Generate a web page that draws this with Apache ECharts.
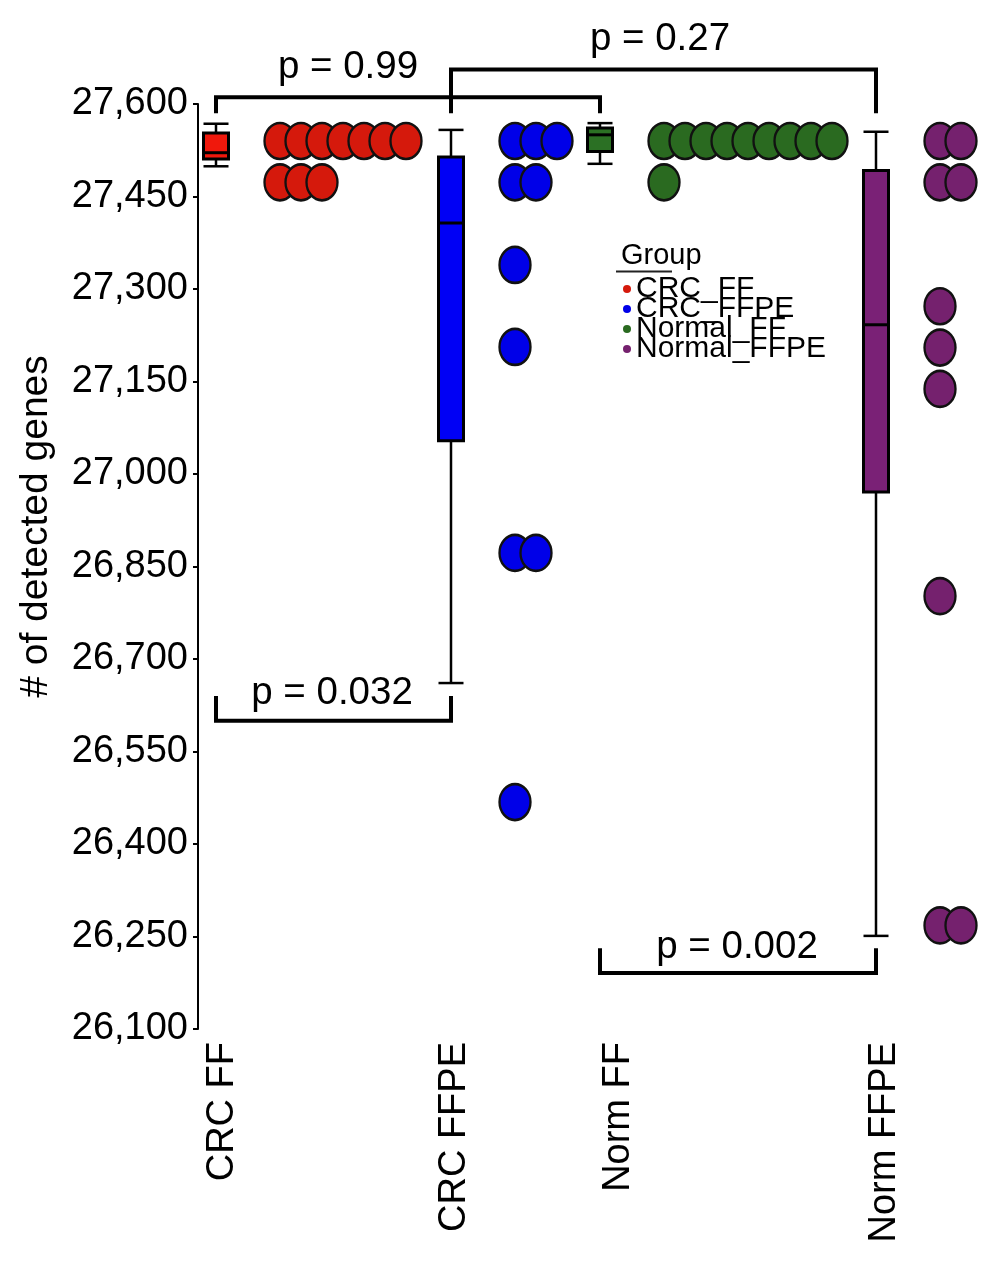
<!DOCTYPE html>
<html><head><meta charset="utf-8">
<script src="https://cdn.jsdelivr.net/npm/echarts@6/dist/echarts.min.js"></script>
<style>html,body{margin:0;padding:0;background:#fff}#chart{width:1006px;height:1265px}</style>
</head><body><div id="chart"></div>
<script>
// ---------- data ----------
const categories = ['CRC FF', 'CRC FFPE', 'Norm FF', 'Norm FFPE'];
const groupNames = ['CRC_FF', 'CRC_FFPE', 'Normal_FF', 'Normal_FFPE'];

const boxMin    = [27499, 26661, 27503, 26251];
const boxQ1     = [27511, 27054, 27523, 26971];
const boxMedian = [27521, 27407, 27550, 27242];
const boxQ3     = [27553, 27514, 27561, 27492];
const boxMax    = [27568, 27558, 27569, 27555];

// dot-plot bins (value) and number of stacked dots in each bin
const crcFFBins      = [27540, 27473];
const crcFFCounts    = [7, 3];
const crcFFPEBins    = [27540, 27473, 27339, 27206, 26872, 26468];
const crcFFPECounts  = [3, 2, 1, 1, 2, 1];
const normFFBins     = [27540, 27473];
const normFFCounts   = [9, 1];
const normFFPEBins   = [27540, 27473, 27272, 27205, 27138, 26802, 26268];
const normFFPECounts = [2, 2, 1, 1, 1, 1, 2];

// significance brackets
const pLabels = ['p = 0.99', 'p = 0.27', 'p = 0.032', 'p = 0.002'];
const pFrom   = [0, 1, 0, 2];
const pTo     = [2, 3, 1, 3];
const pBarY   = [27611, 27656, 26600, 26191];
const pLegY   = [27585, 27585, 26640, 26231];
const pTextY  = [27660, 27705, 26644, 26233];

// y axis ticks
const yMin = 26100, yMax = 27600, yStep = 150;

// ---------- layout / style ----------
const groupPos  = [18, 253, 402, 678];   // x positions of the boxes (axis units)
const labelPos  = [25, 256.5, 421, 687]; // x positions of the category labels
const pTextX    = [150, 462, 134, 539];
const dotOffset = 64, dotStep = 21;
const boxColors = ['#f0180c', '#0000f5', '#2b7024', '#7a2176'];
const dotColors = ['#d5190c', '#0000e8', '#2a6a20', '#75216e'];
const FONT = 'Liberation Sans, Arial, sans-serif';

const binsAll = [[crcFFBins, crcFFCounts], [crcFFPEBins, crcFFPECounts], [normFFBins, normFFCounts], [normFFPEBins, normFFPECounts]];

function dotData(g) {
  const [bins, counts] = binsAll[g];
  const out = [];
  bins.forEach((v, b) => {
    for (let k = 0; k < counts[b]; k++) out.push([groupPos[g] + dotOffset + k * dotStep, v]);
  });
  return out;
}

const ellipse = 'path://M0,50 A50,50 0 1,1 100,50 A50,50 0 1,1 0,50 Z';

const scatterSeries = groupNames.map((name, g) => ({
  name: name,
  type: 'scatter',
  data: dotData(g),
  symbol: ellipse,
  symbolSize: [31, 36],
  itemStyle: { color: dotColors[g], borderColor: '#111', borderWidth: 2.5, opacity: 1 },
  z: 3
}));

const boxSeries = {
  type: 'custom',
  name: 'box',
  clip: false,
  silent: true,
  data: categories.map((c, i) => [groupPos[i], boxMin[i], boxQ1[i], boxMedian[i], boxQ3[i], boxMax[i]]),
  encode: { x: 0, y: [1, 2, 3, 4, 5] },
  renderItem: function (params, api) {
    const i = params.dataIndex;
    const x = api.coord([api.value(0), api.value(1)])[0];
    const yMn = api.coord([api.value(0), api.value(1)])[1];
    const yQ1 = api.coord([api.value(0), api.value(2)])[1];
    const yMd = api.coord([api.value(0), api.value(3)])[1];
    const yQ3 = api.coord([api.value(0), api.value(4)])[1];
    const yMx = api.coord([api.value(0), api.value(5)])[1];
    const hw = 12.5;
    const ls = { stroke: '#000', lineWidth: 2.5 };
    return {
      type: 'group',
      children: [
        { type: 'line', shape: { x1: x, y1: yMx, x2: x, y2: yQ3 }, style: ls },
        { type: 'line', shape: { x1: x, y1: yQ1, x2: x, y2: yMn }, style: ls },
        { type: 'line', shape: { x1: x - hw, y1: yMx, x2: x + hw, y2: yMx }, style: ls },
        { type: 'line', shape: { x1: x - hw, y1: yMn, x2: x + hw, y2: yMn }, style: ls },
        { type: 'rect', shape: { x: x - hw, y: yQ3, width: 2 * hw, height: yQ1 - yQ3 },
          style: { fill: boxColors[i], stroke: '#000', lineWidth: 3 } },
        { type: 'line', shape: { x1: x - hw, y1: yMd, x2: x + hw, y2: yMd }, style: { stroke: '#000', lineWidth: 3 } }
      ]
    };
  },
  z: 2
};

const bracketSeries = {
  type: 'custom',
  name: 'p',
  clip: false,
  silent: true,
  data: pLabels.map((t, i) => [groupPos[pFrom[i]], groupPos[pTo[i]], pBarY[i], pLegY[i], pTextX[i], pTextY[i]]),
  encode: { x: [0, 1], y: [2, 3] },
  renderItem: function (params, api) {
    const i = params.dataIndex;
    const a = api.coord([api.value(0), api.value(2)]);
    const b = api.coord([api.value(1), api.value(2)]);
    const la = api.coord([api.value(0), api.value(3)]);
    const lb = api.coord([api.value(1), api.value(3)]);
    const t = api.coord([api.value(4), api.value(5)]);
    return {
      type: 'group',
      children: [
        { type: 'polyline', shape: { points: [la, a, b, lb] },
          style: { stroke: '#000', lineWidth: 4, fill: null, lineJoin: 'miter' } },
        { type: 'text', style: { text: pLabels[i], x: t[0], y: t[1], align: 'center', verticalAlign: 'middle',
          fontSize: 38.5, fontFamily: FONT, fill: '#000' } }
      ]
    };
  },
  z: 4
};

const chart = echarts.init(document.getElementById('chart'));
chart.setOption({
  animation: false,
  backgroundColor: '#fff',
  grid: { left: 198, right: 0, top: 104, bottom: 236, containLabel: false },
  xAxis: {
    type: 'value', min: 0, max: 808,
    axisLine: { show: false }, axisTick: { show: false }, splitLine: { show: false },
    axisLabel: {
      customValues: labelPos,
      formatter: function (v) { const i = labelPos.indexOf(v); return i >= 0 ? categories[i] : ''; },
      rotate: 90, margin: 13, fontSize: 38, fontFamily: FONT, color: '#000'
    }
  },
  yAxis: {
    type: 'value', min: yMin, max: yMax, interval: yStep,
    name: '# of detected genes', nameLocation: 'middle', nameGap: 142,
    nameTextStyle: { fontSize: 39, fontFamily: FONT, color: '#000', padding: [0, 0, 0, 80] },
    axisLine: { show: true, lineStyle: { color: '#000', width: 2 } },
    axisTick: { show: true, length: 5, lineStyle: { color: '#000', width: 2 } },
    axisLabel: { fontSize: 38, fontFamily: FONT, color: '#000', margin: 10,
      formatter: function (v) { return v.toLocaleString('en-US'); } },
    splitLine: { show: false }
  },
  legend: {
    data: groupNames, orient: 'vertical', left: 623, top: 273.5, padding: 0,
    icon: 'circle', itemWidth: 8, itemHeight: 8, itemGap: -11,
    itemStyle: { borderWidth: 0 },
    textStyle: { fontSize: 30, fontFamily: FONT, color: '#000', lineHeight: 19, padding: [0, 0, 12, 0] },
    selectedMode: false
  },
  graphic: [
    { type: 'text', style: { text: 'Group', x: 621, y: 256, verticalAlign: 'middle', fontSize: 29, fontFamily: FONT, fill: '#000' } },
    { type: 'line', shape: { x1: 616, y1: 271.5, x2: 672, y2: 271.5 }, style: { stroke: '#222', lineWidth: 2 } }
  ],
  series: [boxSeries].concat(scatterSeries).concat([bracketSeries])
});
</script></body></html>
